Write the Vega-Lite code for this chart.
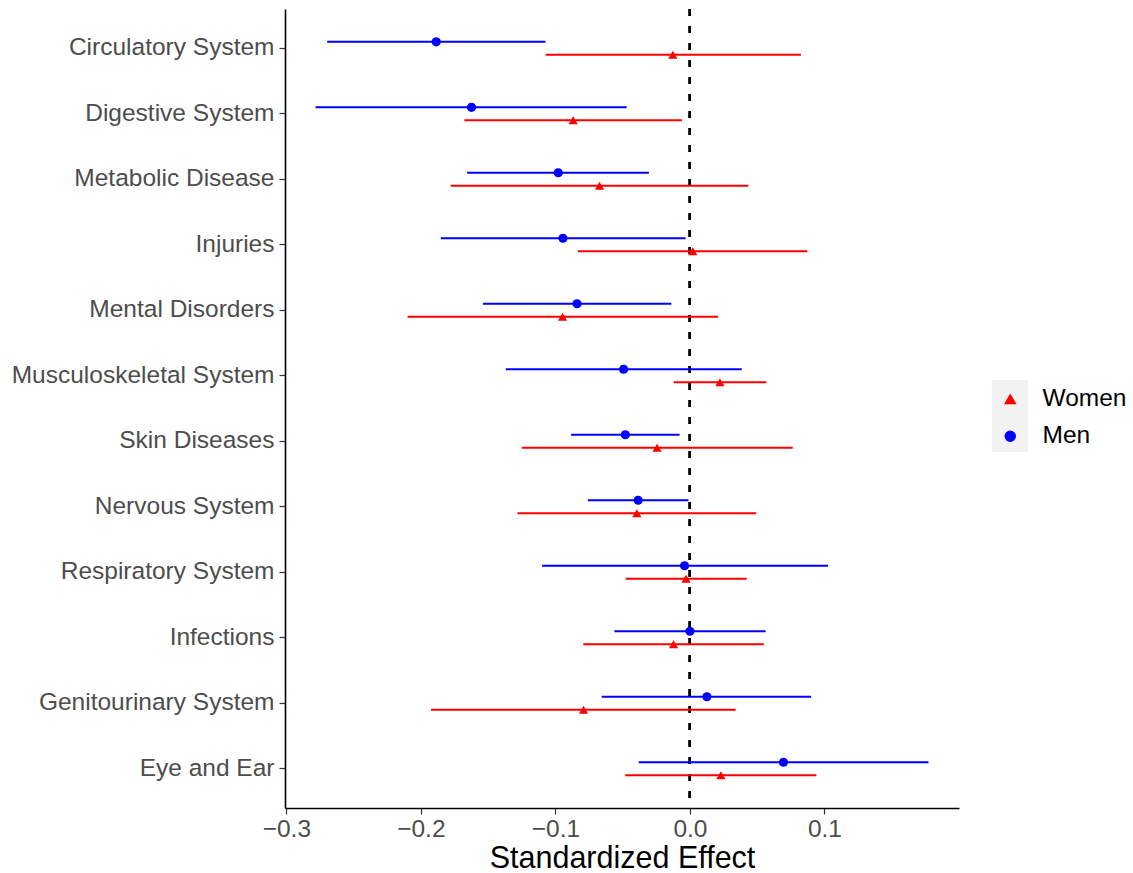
{
  "$schema": "https://vega.github.io/schema/vega-lite/v6.json",
  "autosize": "none",
  "width": 674,
  "height": 799,
  "padding": {"left": 285, "top": 9, "right": 174, "bottom": 65},
  "background": "white",
  "config": {
    "view": {"stroke": null},
    "font": "Liberation Sans",
    "axis": {"grid": false}
  },
  "data": {
    "values": [
      {"Cause": "Circulatory System", "Sex": "Men", "est": -0.1886, "lo": -0.2696, "hi": -0.1074},
      {"Cause": "Circulatory System", "Sex": "Women", "est": -0.0127, "lo": -0.1072, "hi": 0.0825},
      {"Cause": "Digestive System", "Sex": "Men", "est": -0.1624, "lo": -0.2783, "hi": -0.0470},
      {"Cause": "Digestive System", "Sex": "Women", "est": -0.0868, "lo": -0.1677, "hi": -0.0059},
      {"Cause": "Metabolic Disease", "Sex": "Men", "est": -0.0979, "lo": -0.1656, "hi": -0.0305},
      {"Cause": "Metabolic Disease", "Sex": "Women", "est": -0.0672, "lo": -0.1778, "hi": 0.0435},
      {"Cause": "Injuries", "Sex": "Men", "est": -0.0944, "lo": -0.1852, "hi": -0.0032},
      {"Cause": "Injuries", "Sex": "Women", "est": 0.0021, "lo": -0.0833, "hi": 0.0873},
      {"Cause": "Mental Disorders", "Sex": "Men", "est": -0.0839, "lo": -0.1539, "hi": -0.0138},
      {"Cause": "Mental Disorders", "Sex": "Women", "est": -0.0947, "lo": -0.2099, "hi": 0.0209},
      {"Cause": "Musculoskeletal System", "Sex": "Men", "est": -0.0493, "lo": -0.1369, "hi": 0.0385},
      {"Cause": "Musculoskeletal System", "Sex": "Women", "est": 0.0223, "lo": -0.0120, "hi": 0.0568},
      {"Cause": "Skin Diseases", "Sex": "Men", "est": -0.0480, "lo": -0.0883, "hi": -0.0077},
      {"Cause": "Skin Diseases", "Sex": "Women", "est": -0.0244, "lo": -0.1250, "hi": 0.0764},
      {"Cause": "Nervous System", "Sex": "Men", "est": -0.0385, "lo": -0.0759, "hi": -0.0011},
      {"Cause": "Nervous System", "Sex": "Women", "est": -0.0395, "lo": -0.1282, "hi": 0.0493},
      {"Cause": "Respiratory System", "Sex": "Men", "est": -0.0040, "lo": -0.1099, "hi": 0.1027},
      {"Cause": "Respiratory System", "Sex": "Women", "est": -0.0029, "lo": -0.0478, "hi": 0.0422},
      {"Cause": "Infections", "Sex": "Men", "est": 0.0000, "lo": -0.0562, "hi": 0.0563},
      {"Cause": "Infections", "Sex": "Women", "est": -0.0122, "lo": -0.0793, "hi": 0.0549},
      {"Cause": "Genitourinary System", "Sex": "Men", "est": 0.0126, "lo": -0.0656, "hi": 0.0901},
      {"Cause": "Genitourinary System", "Sex": "Women", "est": -0.0791, "lo": -0.1925, "hi": 0.0340},
      {"Cause": "Eye and Ear", "Sex": "Men", "est": 0.0695, "lo": -0.0381, "hi": 0.1773},
      {"Cause": "Eye and Ear", "Sex": "Women", "est": 0.0230, "lo": -0.0481, "hi": 0.0940}
    ]
  },
  "encoding": {
    "y": {
      "field": "Cause",
      "type": "nominal",
      "sort": ["Circulatory System", "Digestive System", "Metabolic Disease", "Injuries", "Mental Disorders", "Musculoskeletal System", "Skin Diseases", "Nervous System", "Respiratory System", "Infections", "Genitourinary System", "Eye and Ear"],
      "scale": {"paddingInner": 0.405, "paddingOuter": 0.302},
      "axis": {
        "title": null,
        "labelFontSize": 24.5,
        "labelColor": "#4D4D4D",
        "labelLimit": 400,
        "labelPadding": 5,
        "tickSize": 6,
        "tickColor": "#333333",
        "tickWidth": 1.2,
        "domainColor": "#000000",
        "domainWidth": 1.6
      }
    }
  },
  "layer": [
    {
      "mark": {"type": "rule", "strokeDash": [7, 10], "strokeWidth": 2, "color": "#000000"},
      "encoding": {"x": {"datum": 0, "type": "quantitative"}, "y": null}
    },
    {
      "mark": {"type": "rule", "strokeWidth": 2},
      "encoding": {
        "x": {
          "field": "lo",
          "type": "quantitative",
          "scale": {"domain": [-0.301, 0.2], "nice": false, "zero": false},
          "axis": {
            "values": [-0.3, -0.2, -0.1, 0, 0.1],
            "format": ".1f",
            "title": "Standardized Effect",
            "titleFontSize": 30.5,
            "titleFontWeight": "normal",
            "titleColor": "#000000",
            "titlePadding": 3,
            "labelFontSize": 24.5,
            "labelColor": "#4D4D4D",
            "labelPadding": 3,
            "tickSize": 6,
            "tickColor": "#333333",
            "tickWidth": 1.2,
            "domainColor": "#000000",
            "domainWidth": 1.6
          }
        },
        "x2": {"field": "hi"},
        "yOffset": {
          "field": "Sex",
          "type": "nominal",
          "scale": {"domain": ["Men", "Women"], "paddingInner": 1, "paddingOuter": 1}
        },
        "color": {
          "field": "Sex",
          "type": "nominal",
          "scale": {"domain": ["Women", "Men"], "range": ["#FF0000", "#0000FF"]}
        }
      }
    },
    {
      "mark": {"type": "point", "filled": true, "opacity": 1},
      "encoding": {
        "x": {"field": "est", "type": "quantitative"},
        "yOffset": {
          "field": "Sex",
          "type": "nominal",
          "scale": {"domain": ["Men", "Women"], "paddingInner": 1, "paddingOuter": 1}
        },
        "size": {"value": 85},
        "color": {
          "field": "Sex",
          "type": "nominal",
          "scale": {"domain": ["Women", "Men"], "range": ["#FF0000", "#0000FF"]},
          "legend": {
            "orient": "none",
            "legendX": 713,
            "legendY": 378,
            "title": null,
            "labelFontSize": 24.5,
            "labelColor": "#000000",
            "labelOffset": 20,
            "symbolSize": 100,
            "rowPadding": 12,
            "padding": 0,
            "zindex": 2
          }
        },
        "shape": {
          "field": "Sex",
          "type": "nominal",
          "scale": {"domain": ["Women", "Men"], "range": ["triangle-up", "circle"]},
          "legend": {
            "orient": "none",
            "legendX": 713,
            "legendY": 378,
            "title": null,
            "labelFontSize": 24.5,
            "labelColor": "#000000",
            "labelOffset": 20,
            "symbolSize": 100,
            "rowPadding": 12,
            "padding": 0,
            "zindex": 2
          }
        },
        "opacity": {
          "field": "Sex",
          "type": "nominal",
          "scale": {"domain": ["Men", "Women"], "range": [1, 1]},
          "legend": {
            "orient": "none",
            "legendX": 707,
            "legendY": 371,
            "title": null,
            "symbolType": "square",
            "symbolSize": 1296,
            "symbolFillColor": "#F2F2F2",
            "symbolStrokeWidth": 0,
            "labelFontSize": 1,
            "labelOpacity": 0,
            "labelOffset": 0,
            "rowPadding": 0,
            "padding": 0,
            "zindex": 0
          }
        }
      }
    }
  ]
}
